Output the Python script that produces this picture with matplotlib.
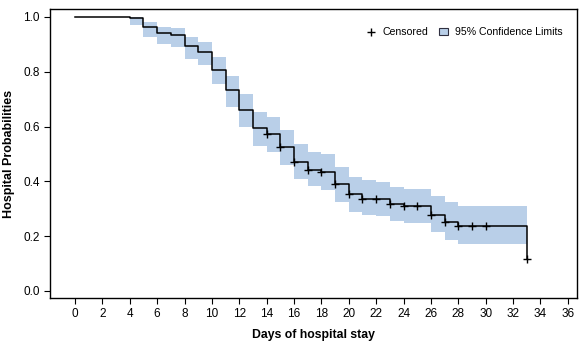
import numpy as np
import matplotlib
matplotlib.use("Agg")
import matplotlib.pyplot as plt
from matplotlib.lines import Line2D
from matplotlib.patches import Patch

plt.rcParams['font.family'] = ['Liberation Sans', 'DejaVu Sans']

# Kaplan-Meier step curve
times = [0, 4, 5, 6, 7, 8, 9, 10, 11, 12, 13, 14, 15, 16, 17, 18, 19, 20,
         21, 22, 23, 24, 25, 26, 27, 28, 29, 30, 33]
surv = [1.0, 0.996, 0.962, 0.941, 0.935, 0.893, 0.871, 0.808, 0.732, 0.659,
        0.594, 0.572, 0.524, 0.472, 0.442, 0.433, 0.389, 0.352, 0.336, 0.336,
        0.316, 0.308, 0.308, 0.275, 0.251, 0.235, 0.235, 0.235, 0.116]

# 95% confidence band (step), intervals start at these times, end at 33
band_t = [4, 5, 6, 7, 8, 9, 10, 11, 12, 13, 14, 15, 16, 17, 18, 19, 20,
          21, 22, 23, 24, 25, 26, 27, 28, 33]
band_lo = [0.972, 0.928, 0.901, 0.890, 0.847, 0.825, 0.755, 0.672, 0.599,
           0.530, 0.508, 0.460, 0.409, 0.381, 0.369, 0.326, 0.288, 0.277,
           0.273, 0.255, 0.248, 0.248, 0.215, 0.186, 0.172, 0.172]
band_hi = [1.0, 0.982, 0.964, 0.960, 0.927, 0.909, 0.854, 0.785, 0.719,
           0.654, 0.636, 0.587, 0.536, 0.507, 0.500, 0.453, 0.416, 0.405,
           0.398, 0.378, 0.372, 0.372, 0.347, 0.325, 0.310, 0.310]

censor_t = [14, 15, 16, 17, 18, 19, 20, 21, 22, 23, 24, 25, 26, 27, 28, 29, 30, 33]

x_ticks = list(range(0, 37, 2))
y_ticks = [0.0, 0.2, 0.4, 0.6, 0.8, 1.0]

band_color = '#B9CFE8'

fig = plt.figure(figsize=(5.81, 3.48), dpi=100)
ax = fig.add_axes([0.086, 0.144, 0.907, 0.830])

ax.fill_between(band_t, band_lo, band_hi, step='post', color=band_color,
                linewidth=0, zorder=1)
ax.step(times, surv, where='post', color='black', lw=1.1, zorder=3)

ts = np.array(times)
sv = np.array(surv)
idx = np.searchsorted(ts, censor_t, side='right') - 1
ax.plot(censor_t, sv[idx], linestyle='none', marker='+', color='black',
        markersize=6, markeredgewidth=1.0, zorder=4)

ax.set_xlim(-1.83, 36.67)
ax.set_ylim(-0.026, 1.029)
ax.set_xticks(x_ticks)
ax.set_yticks(y_ticks)
ax.set_yticklabels([f"{v:.1f}" for v in y_ticks])
ax.tick_params(axis='both', labelsize=8.5, length=4, width=0.8, color='black')
for s in ax.spines.values():
    s.set_linewidth(1.0)

ax.set_xlabel('Days of hospital stay', fontsize=8.8, fontweight='bold', labelpad=6)
ax.set_ylabel('Hospital Probabilities', fontsize=9, fontweight='bold', labelpad=6)

handles = [Line2D([], [], linestyle='none', marker='+', color='black',
                  markersize=6, markeredgewidth=1.0),
           Patch(facecolor=band_color, edgecolor='#303040', linewidth=0.8)]
ax.legend(handles, ['Censored', '95% Confidence Limits'], ncol=2,
          frameon=False, fontsize=7.6, loc='upper right',
          bbox_to_anchor=(0.99, 0.97), handlelength=0.9, handletextpad=0.6,
          columnspacing=1.0)

fig.savefig('out.png', dpi=100)
